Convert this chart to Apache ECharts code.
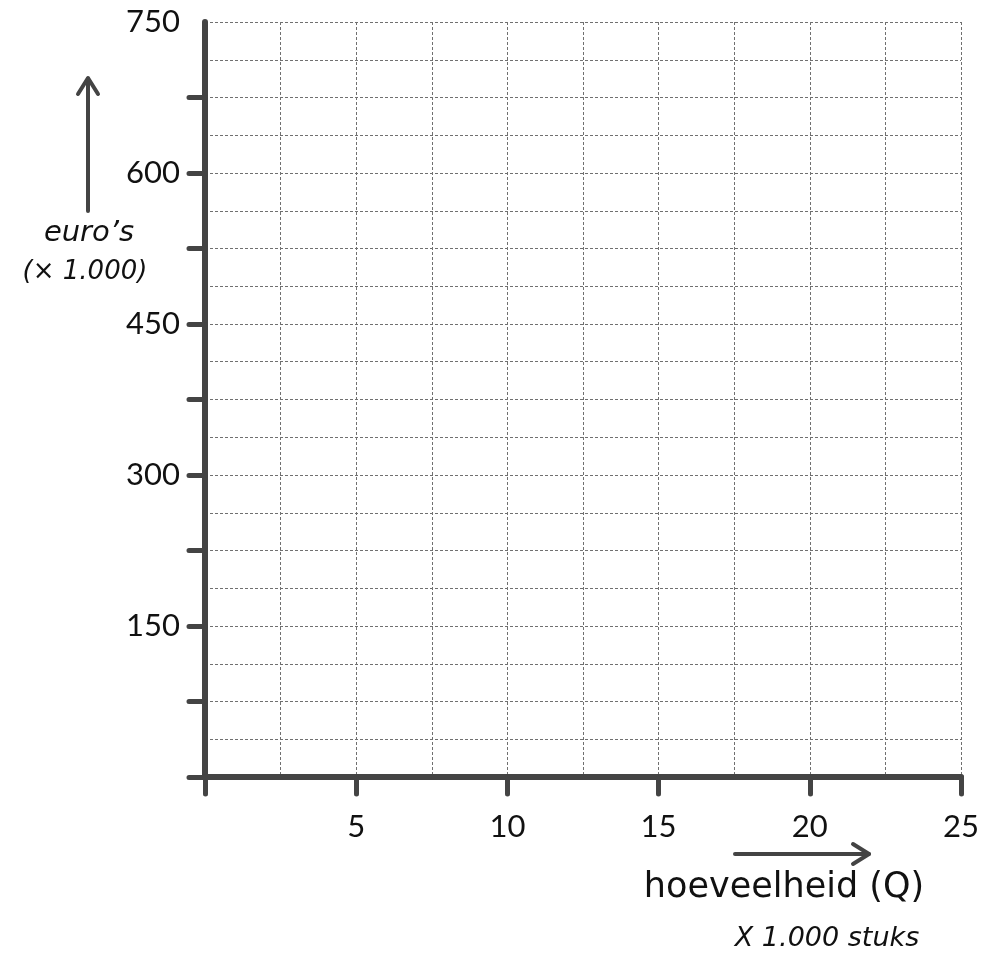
<!DOCTYPE html>
<html>
<head>
<meta charset="utf-8">
<script src="https://cdn.jsdelivr.net/npm/echarts@6/dist/echarts.min.js"></script>
<style>html,body{margin:0;padding:0;background:#fff}#c{width:996px;height:955px}</style>
</head>
<body>
<div id="c"></div>
<script>
var xTickValues = [0, 5, 10, 15, 20, 25];
var xLabelValues = [5, 10, 15, 20, 25];
var yTickValues = [0, 75, 150, 225, 300, 375, 450, 525, 600, 675];
var yLabelValues = [150, 300, 450, 600, 750];
var xRange = [0, 25];
var yRange = [0, 750];
var xGridStep = 2.5;
var yGridStep = 37.5;

var axisColor = '#444';
var numFont = 'Lato, "Liberation Sans", sans-serif';
var txtFont = '"DejaVu Sans", sans-serif';
var gridLine = {show: true, lineStyle: {color: '#707070', width: 1, type: [3, 2]}};
var hidden = {show: false};
var chart = echarts.init(document.getElementById('c'));
chart.setOption({
  animation: false,
  grid: {left: 205, right: 35, top: 22, bottom: 178},
  xAxis: [{
    type: 'value', min: xRange[0], max: xRange[1], interval: xGridStep, position: 'bottom',
    axisLine: hidden, axisTick: hidden, axisLabel: hidden, splitLine: gridLine, z: 1
  }, {
    type: 'value', min: xRange[0], max: xRange[1], interval: 5, position: 'bottom',
    axisLine: {show: true, lineStyle: {color: axisColor, width: 6, cap: 'round'}},
    axisTick: {show: true, customValues: xTickValues, length: 17,
      lineStyle: {color: axisColor, width: 5, cap: 'round'}},
    axisLabel: {customValues: xLabelValues, margin: 34, color: '#111', fontSize: 31, fontFamily: numFont},
    splitLine: hidden, z: 3
  }],
  yAxis: [{
    type: 'value', min: yRange[0], max: yRange[1], interval: yGridStep, position: 'left',
    axisLine: hidden, axisTick: hidden, axisLabel: hidden, splitLine: gridLine, z: 1
  }, {
    type: 'value', min: yRange[0], max: yRange[1], interval: 75, position: 'left',
    axisLine: {show: true, lineStyle: {color: axisColor, width: 6, cap: 'round'}},
    axisTick: {show: true, customValues: yTickValues, length: 16,
      lineStyle: {color: axisColor, width: 5, cap: 'round'}},
    axisLabel: {customValues: yLabelValues, margin: 25, color: '#111', fontSize: 31, fontFamily: numFont},
    splitLine: hidden, z: 3
  }],
  series: [{type: 'scatter', xAxisIndex: 1, yAxisIndex: 1, data: []}],
  graphic: [
    {type: 'line', shape: {x1: 88, y1: 211, x2: 88, y2: 79}, style: {stroke: axisColor, lineWidth: 4, lineCap: 'round'}},
    {type: 'polyline', shape: {points: [[78, 94], [88, 78], [98, 94]]}, style: {stroke: axisColor, lineWidth: 4, lineCap: 'round', lineJoin: 'round', fill: null}},
    {type: 'text', style: {x: 89, y: 233, text: "euro’s", fontSize: 29, fontStyle: 'italic', fontFamily: txtFont, fill: '#111', align: 'center', verticalAlign: 'middle'}},
    {type: 'text', style: {x: 85, y: 272, text: '(× 1.000)', fontSize: 26, fontStyle: 'italic', fontFamily: txtFont, fill: '#111', align: 'center', verticalAlign: 'middle'}},
    {type: 'line', shape: {x1: 735, y1: 854, x2: 869, y2: 854}, style: {stroke: axisColor, lineWidth: 4, lineCap: 'round'}},
    {type: 'polyline', shape: {points: [[853, 844], [869, 854], [853, 864]]}, style: {stroke: axisColor, lineWidth: 4, lineCap: 'round', lineJoin: 'round', fill: null}},
    {type: 'text', style: {x: 784, y: 888, text: 'hoeveelheid (Q)', fontSize: 35, fontFamily: txtFont, fill: '#111', align: 'center', verticalAlign: 'middle'}},
    {type: 'text', style: {x: 827, y: 939, text: 'X 1.000 stuks', fontSize: 27, fontStyle: 'italic', fontFamily: txtFont, fill: '#111', align: 'center', verticalAlign: 'middle'}}
  ]
});
</script>
</body>
</html>
